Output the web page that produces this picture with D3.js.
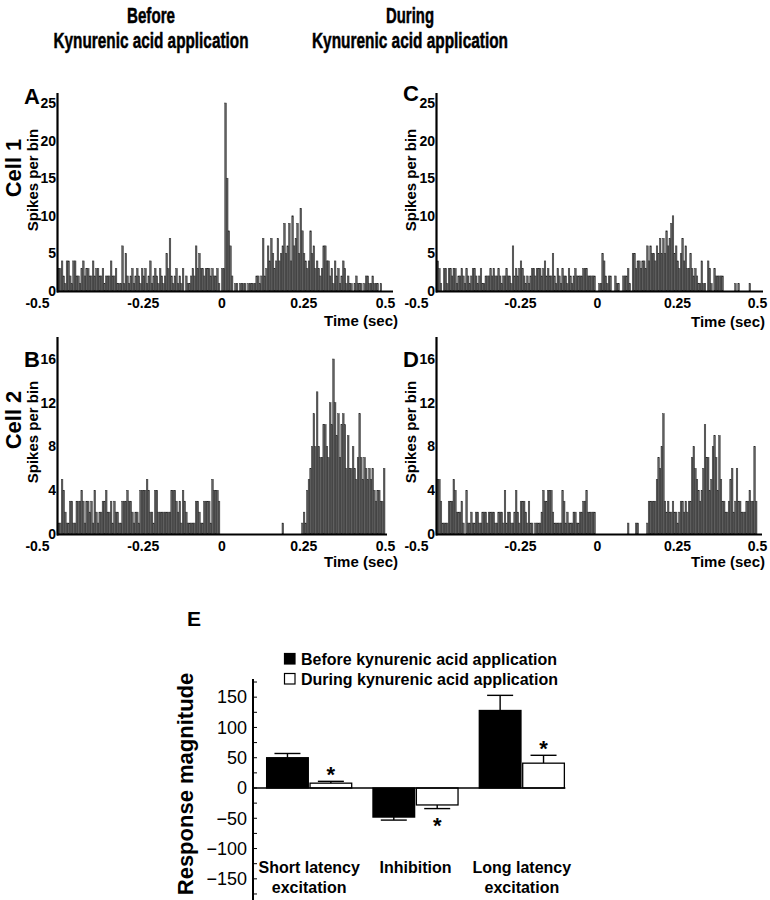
<!DOCTYPE html>
<html><head><meta charset="utf-8">
<script src="https://cdn.jsdelivr.net/npm/d3@7"></script>
<style>
body{margin:0;background:#fff}
svg{display:block}
text{font-family:"Liberation Sans",Arial,Helvetica,sans-serif}
</style>
</head><body>
<svg id="chart" width="770" height="900"></svg>
<script>
// ---------------- DATA ----------------
const binStartSec = -0.5;
const binWidthSec = 0.005;
const timeTicks = [-0.5, -0.25, 0, 0.25, 0.5];
const timeTickLabels = ["-0.5", "-0.25", "0", "0.25", "0.5"];
const cell1Ticks = [0, 5, 10, 15, 20, 25];
const cell2Ticks = [0, 4, 8, 12, 16];

// Cell 1, before kynurenic acid (spikes per 5 ms bin)
const cell1Before = [
 3,3,4,2,1,4,4,2,1,4,4,2,2,1,3,4,2,3,3,2,
 2,4,2,3,3,2,2,3,1,2,2,2,4,2,2,3,1,1,1,6,
 1,5,2,1,2,3,1,2,3,2,1,3,2,3,1,2,4,1,2,3,
 2,1,3,2,1,2,5,3,7,2,1,2,3,1,2,1,3,0,2,1,
 1,2,3,2,6,3,5,3,3,2,3,3,3,2,3,2,2,3,1,0,
 3,3,25,15,8,6,2,0,1,1,0,1,1,1,1,0,1,1,1,1,
 1,2,2,1,2,7,2,3,6,4,7,5,3,4,7,4,5,6,9,5,
 6,9,4,10,6,7,9,5,11,8,5,4,3,4,8,5,6,3,4,3,
 2,3,6,6,4,4,2,3,1,4,2,3,1,2,4,3,1,2,1,1,
 0,1,2,1,1,1,0,1,2,2,1,1,2,1,1,1,0,1,0,0
];
// Cell 1, during kynurenic acid
const cell1During = [
 4,3,1,0,3,3,1,3,3,2,3,3,1,2,2,3,2,1,3,2,
 1,2,3,3,2,1,2,3,1,1,2,2,2,3,2,3,2,2,3,2,
 1,2,2,3,2,2,1,6,2,3,2,3,4,3,2,1,2,1,2,3,
 3,2,3,3,3,2,3,4,2,3,2,2,5,2,1,3,2,1,3,2,
 2,1,3,2,1,2,3,2,2,2,2,3,3,3,2,2,2,2,2,0,
 0,1,1,5,4,2,1,2,2,0,0,2,1,1,0,0,2,2,2,3,
 1,0,5,5,3,4,4,3,4,4,3,6,4,6,5,5,4,6,5,7,
 5,7,5,8,6,7,9,10,5,6,4,3,5,7,4,6,3,3,5,3,
 2,3,2,1,1,4,1,1,0,4,3,1,0,3,2,2,2,2,2,0,
 0,0,0,0,0,0,1,0,1,0,0,0,0,0,0,1,0,0,0,0
];
// Cell 2, before kynurenic acid
const cell2Before = [
 1,1,5,4,2,1,1,3,3,1,1,3,3,3,4,3,1,3,3,2,
 3,1,4,2,1,2,2,3,3,4,2,2,3,1,3,2,2,1,1,3,
 3,3,4,3,3,2,1,2,2,1,4,4,4,4,5,4,2,2,1,4,
 4,2,2,2,2,2,2,2,2,4,4,4,3,2,3,1,4,3,2,1,
 1,1,1,1,3,3,2,1,1,3,3,3,3,1,5,4,4,4,3,0,
 0,0,0,0,0,0,0,0,0,0,0,0,0,0,0,0,0,0,0,0,
 0,0,0,0,0,0,0,0,0,0,0,0,0,0,0,0,0,1,0,0,
 0,0,0,0,0,0,0,0,0,1,2,1,4,5,6,8,11,8,13,8,
 7,7,10,10,8,7,12,10,16,12,9,11,7,10,11,10,6,9,6,6,
 8,6,5,7,11,7,5,7,6,5,6,5,6,4,3,4,4,3,3,6
];
// Cell 2, during kynurenic acid
const cell2During = [
 5,5,3,1,1,1,1,3,3,3,5,4,2,2,2,3,1,0,4,1,
 1,2,1,1,2,2,1,1,2,2,2,1,2,2,2,2,1,1,2,2,
 2,1,4,1,2,2,1,1,2,4,2,1,3,3,3,2,1,3,1,1,
 0,1,1,1,1,2,4,3,3,4,4,4,2,1,1,1,1,1,4,3,
 1,2,1,1,1,2,2,1,1,2,2,3,3,4,2,2,2,2,2,0,
 0,0,0,0,0,0,0,0,0,0,0,0,0,0,0,0,0,0,0,1,
 0,0,0,0,1,1,0,0,0,0,0,1,3,3,3,3,3,5,7,6,
 8,11,3,2,3,2,2,3,2,2,1,2,3,3,2,3,2,3,3,7,
 8,6,5,4,3,4,6,10,7,7,4,5,8,9,7,4,9,5,3,3,
 2,2,3,5,6,2,3,6,3,3,2,2,2,3,3,4,3,3,8,3
];

// Panel E
const categories = ["Short latency excitation", "Inhibition", "Long latency excitation"];
const categoryLines = [["Short latency", "excitation"], ["Inhibition"], ["Long latency", "excitation"]];
const conditions = ["Before kynurenic acid application", "During kynurenic acid application"];
const beforeMeans = [50, -48, 128];
const beforeErrors = [7, 5, 25];
const duringMeans = [8, -28, 41];
const duringErrors = [3, 6, 13];
const duringSignificant = [true, true, true];
const magnitudeTicks = [-150, -100, -50, 0, 50, 100, 150];
const magnitudeMinorTicks = [-175, -125, -75, -25, 25, 75, 125, 175];

// ---------------- DRAW ----------------
const svg = d3.select("#chart");
const FONT = '"Liberation Sans",Arial,Helvetica,sans-serif';

// column titles
const titles = [
  {cx: 151, l1: "Before", w1: 48, l2: "Kynurenic acid application", w2: 195},
  {cx: 410, l1: "During", w1: 48, l2: "Kynurenic acid application", w2: 196}
];
titles.forEach(t => {
  svg.append("text").attr("x", t.cx).attr("y", 23).attr("text-anchor", "middle")
    .attr("font-size", 22).attr("font-weight", "bold").attr("stroke", "#000").attr("stroke-width", 0.5)
    .attr("textLength", t.w1).attr("lengthAdjust", "spacingAndGlyphs").text(t.l1);
  svg.append("text").attr("x", t.cx).attr("y", 48).attr("text-anchor", "middle")
    .attr("font-size", 22).attr("font-weight", "bold").attr("stroke", "#000").attr("stroke-width", 0.5)
    .attr("textLength", t.w2).attr("lengthAdjust", "spacingAndGlyphs").text(t.l2);
});

function histogram(cfg) {
  const g = svg.append("g");
  const x = d3.scaleLinear().domain([-0.5, 0.5]).range(cfg.xr);
  const y = d3.scaleLinear().domain([0, cfg.ymax]).range(cfg.yr);
  const bins = cfg.values.map((v, i) => ({t0: binStartSec + i * binWidthSec, t1: binStartSec + (i + 1) * binWidthSec, v}));
  g.selectAll("rect.bin").data(bins.filter(b => b.v > 0)).join("rect")
    .attr("class", "bin")
    .attr("x", d => x(d.t0))
    .attr("width", d => x(d.t1) - x(d.t0))
    .attr("y", d => y(d.v))
    .attr("height", d => y(0) - y(d.v))
    .attr("fill", "#606060")
    .attr("stroke", "#262626")
    .attr("stroke-width", 0.45);

  // x axis
  const xa = g.append("g").attr("transform", `translate(0,${y(0)})`)
    .call(d3.axisBottom(x).tickValues(timeTicks).tickFormat((d, i) => timeTickLabels[i]).tickSize(0).tickPadding(7));
  xa.select(".domain").remove();
  xa.selectAll("text").attr("font-size", 14).attr("font-weight", "bold").attr("font-family", FONT).attr("fill", "#000");
  xa.selectAll(".tick").filter(d => d === -0.5).select("text").attr("text-anchor", "end").attr("dx", -9);
  xa.selectAll(".tick").filter(d => d === -0.25).select("text").attr("dx", 3);
  g.append("line").attr("x1", x(-0.5) - 1).attr("x2", cfg.axisEnd).attr("y1", y(0) + 0.5).attr("y2", y(0) + 0.5)
    .attr("stroke", "#000").attr("stroke-width", 2);

  // y axis
  const ya = g.append("g").attr("transform", `translate(${x(-0.5)},0)`)
    .call(d3.axisLeft(y).tickValues(cfg.ticks).tickSize(0).tickPadding(2));
  ya.select(".domain").remove();
  ya.selectAll("text").attr("font-size", 14).attr("font-weight", "bold").attr("font-family", FONT).attr("fill", "#000");
  g.append("line").attr("x1", x(-0.5) - 0.5).attr("x2", x(-0.5) - 0.5).attr("y1", y(0) + 1.5).attr("y2", cfg.yTop)
    .attr("stroke", "#000").attr("stroke-width", 2.2);

  // letters and labels
  g.append("text").attr("x", cfg.letterX).attr("y", cfg.letterY).attr("font-size", 22).attr("font-weight", "bold").text(cfg.letter);
  g.append("text").attr("transform", `translate(${cfg.spX},${cfg.spY}) rotate(-90)`).attr("text-anchor", "middle")
    .attr("font-size", 15).attr("font-weight", "bold").text("Spikes per bin");
  g.append("text").attr("x", cfg.timeX).attr("y", cfg.timeY).attr("text-anchor", "end")
    .attr("font-size", 15).attr("font-weight", "bold").text("Time (sec)");
  if (cfg.cell) {
    g.append("text").attr("transform", `translate(${cfg.cellX},${cfg.cellY}) rotate(-90)`).attr("text-anchor", "middle")
      .attr("font-size", 22).attr("font-weight", "bold").text(cfg.cell);
  }
}

histogram({values: cell1Before, xr: [58, 385], yr: [291, 103], ymax: 25, ticks: cell1Ticks,
  yTop: 93, axisEnd: 393, letter: "A", letterX: 24, letterY: 104, spX: 38, spY: 180,
  timeX: 398, timeY: 326, cell: "Cell 1", cellX: 21, cellY: 168});
histogram({values: cell1During, xr: [437, 757], yr: [291, 103], ymax: 25, ticks: cell1Ticks,
  yTop: 93, axisEnd: 763, letter: "C", letterX: 403, letterY: 101, spX: 416, spY: 180,
  timeX: 765, timeY: 327});
histogram({values: cell2Before, xr: [58, 385], yr: [534, 359], ymax: 16, ticks: cell2Ticks,
  yTop: 337, axisEnd: 387, letter: "B", letterX: 24, letterY: 367, spX: 38, spY: 432,
  timeX: 398, timeY: 567, cell: "Cell 2", cellX: 21, cellY: 420});
histogram({values: cell2During, xr: [437, 757], yr: [534, 359], ymax: 16, ticks: cell2Ticks,
  yTop: 337, axisEnd: 762, letter: "D", letterX: 403, letterY: 367, spX: 416, spY: 432,
  timeX: 765, timeY: 567});

// ---------------- PANEL E ----------------
const gE = svg.append("g");
const yE = d3.scaleLinear().domain([-180, 180]).range([897, 679]);
const xE = d3.scaleBand().domain(categories).range([256, 575]).paddingInner(0.2).paddingOuter(0.1);
const xSub = d3.scaleBand().domain(conditions).range([0, xE.bandwidth()]).paddingInner(0.04);
const axisX = 253;

gE.append("text").attr("x", 187).attr("y", 626).attr("font-size", 21).attr("font-weight", "bold").text("E");

// legend
const legendFill = ["#000", "#fff"];
conditions.forEach((c, i) => {
  gE.append("rect").attr("x", 284.5).attr("y", 653.5 + i * 20).attr("width", 10.5).attr("height", 10.5)
    .attr("fill", legendFill[i]).attr("stroke", "#000").attr("stroke-width", 1.2);
  gE.append("text").attr("x", 301).attr("y", 664.5 + i * 20).attr("font-size", 16).attr("font-weight", "bold").text(c);
});

// bars
const rows = categories.map((cat, i) => [
  {cat, cond: conditions[0], v: beforeMeans[i], e: beforeErrors[i], fill: "#000", sig: false},
  {cat, cond: conditions[1], v: duringMeans[i], e: duringErrors[i], fill: "#fff", sig: duringSignificant[i]}
]).flat();

// error bars (outward only)
rows.forEach(r => {
  const cx = xE(r.cat) + xSub(r.cond) + xSub.bandwidth() / 2;
  const tipV = r.v >= 0 ? r.v + r.e : r.v - r.e;
  gE.append("line").attr("x1", cx).attr("x2", cx).attr("y1", yE(r.v)).attr("y2", yE(tipV)).attr("stroke", "#000").attr("stroke-width", 1.4);
  gE.append("line").attr("x1", cx - 13).attr("x2", cx + 13).attr("y1", yE(tipV)).attr("y2", yE(tipV)).attr("stroke", "#000").attr("stroke-width", 1.4);
  if (r.sig) {
    const ay = r.v >= 0 ? yE(tipV) - 12 + 12.5 : yE(tipV) + 12 + 12.5;
    gE.append("text").attr("x", cx).attr("y", ay).attr("text-anchor", "middle").attr("font-size", 22).attr("font-weight", "bold").text("*");
  }
});
gE.selectAll("rect.bar").data(rows).join("rect").attr("class", "bar")
  .attr("x", d => xE(d.cat) + xSub(d.cond))
  .attr("width", xSub.bandwidth())
  .attr("y", d => Math.min(yE(d.v), yE(0)))
  .attr("height", d => Math.abs(yE(d.v) - yE(0)))
  .attr("fill", d => d.fill).attr("stroke", "#000").attr("stroke-width", 1.3);

// zero line
gE.append("line").attr("x1", axisX).attr("x2", xE(categories[2]) + xE.bandwidth() + 1).attr("y1", yE(0)).attr("y2", yE(0))
  .attr("stroke", "#000").attr("stroke-width", 1.3);

// y axis
const yaE = gE.append("g").attr("transform", `translate(${axisX},0)`)
  .call(d3.axisLeft(yE).tickValues(magnitudeTicks).tickSize(0).tickPadding(6));
yaE.select(".domain").remove();
yaE.selectAll("text").attr("font-size", 18).attr("font-family", FONT).attr("fill", "#000");
gE.selectAll("line.minor").data(magnitudeTicks.concat(magnitudeMinorTicks)).join("line").attr("class", "minor")
  .attr("x1", axisX).attr("x2", axisX + 4).attr("y1", d => yE(d)).attr("y2", d => yE(d))
  .attr("stroke", "#000").attr("stroke-width", 1);
gE.append("line").attr("x1", axisX).attr("x2", axisX).attr("y1", 679).attr("y2", 900).attr("stroke", "#000").attr("stroke-width", 2);

gE.append("text").attr("transform", "translate(193,784) rotate(-90)").attr("text-anchor", "middle")
  .attr("font-size", 22).attr("font-weight", "bold").text("Response magnitude");

// category labels
categories.forEach((cat, i) => {
  const cx = xE(cat) + xE.bandwidth() / 2;
  categoryLines[i].forEach((ln, j) => {
    gE.append("text").attr("x", cx).attr("y", 873 + j * 20).attr("text-anchor", "middle")
      .attr("font-size", 16).attr("font-weight", "bold").text(ln);
  });
});
</script>
</body></html>
